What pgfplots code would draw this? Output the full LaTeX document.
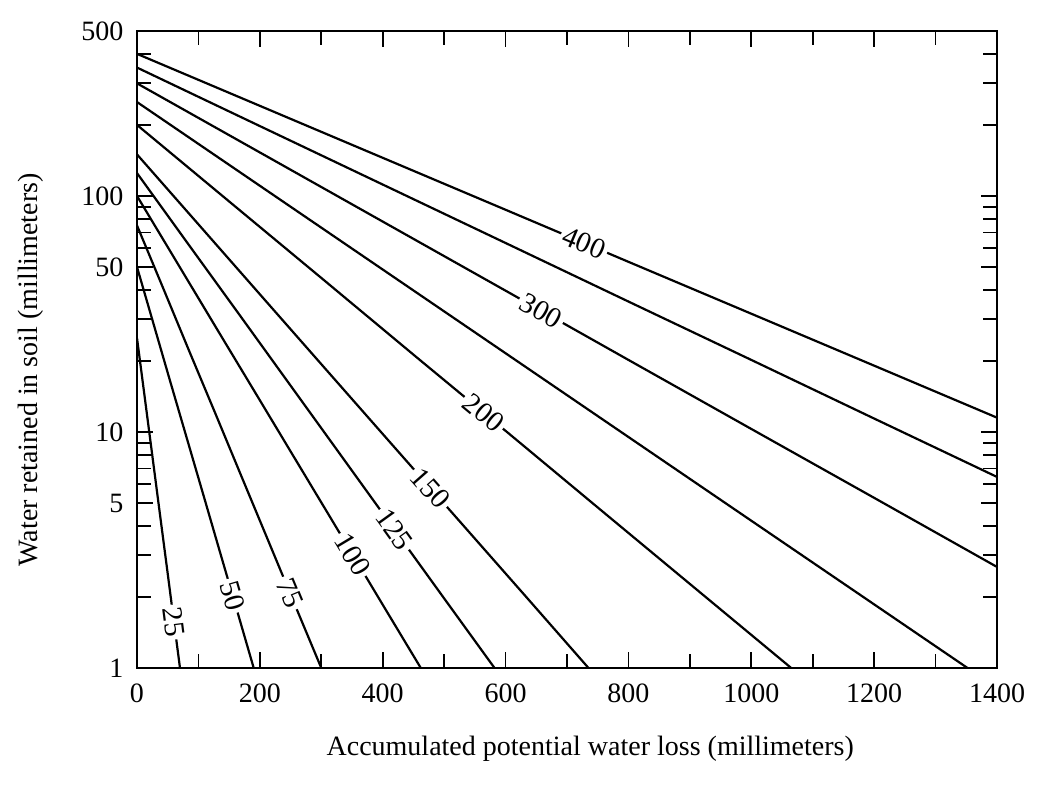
\documentclass[border=0pt]{standalone}
\usepackage{fontspec}
\setmainfont{Liberation Serif}
\usepackage{pgfplots}
\pgfplotsset{compat=1.18}
\tikzset{lab/.style={sloped, fill=white, inner sep=1.5pt, font=\fontsize{14.5}{17}\selectfont}}
\pgfplotsset{cv/.style={black, solid, line width=1.1pt, mark=none}}
\begin{document}
\fontsize{14}{17}\selectfont
\begin{tikzpicture}[font=\fontsize{14}{17}\selectfont]
\begin{axis}[
  scale only axis, width=430pt, height=318.5pt,
  xmin=0, xmax=1400, ymin=1, ymax=500, ymode=log,
  axis line style={line width=1pt},
  tick style={line width=0.9pt, black},
  tick align=inside,
  major tick length=8pt, minor tick length=7pt,
  xtick={0,200,400,600,800,1000,1200,1400},
  xticklabels={0,200,400,600,800,1000,1200,1400},
  minor xtick={100,300,500,700,900,1100,1300},
  ytick={1,5,10,50,100,500}, yticklabels={1,5,10,50,100,500},
  minor ytick={2,3,4,6,7,8,9,20,30,40,60,70,80,90,200,300,400},
  xticklabel style={yshift=-3pt},
  yticklabel style={xshift=-2pt},
  xlabel={Accumulated potential water loss (millimeters)},
  ylabel={Water retained in soil (millimeters)},
  xlabel style={at={(axis description cs:0.527,0)}, anchor=center, yshift=-40.5pt},
  ylabel style={at={(axis description cs:-0.123,0.468)}, anchor=center},
]
% 400
\addplot[cv] coordinates {(0,400) (200,240.9) (400,145.1) (600,87.4) (800,52.6) (1000,31.7) (1200,19.1) (1400,11.5)}
  node[lab, pos=0.52] {400};
% 350
\addplot[cv] coordinates {(0,350) (200,197.8) (400,111.8) (600,63.2) (800,35.7) (1000,20.2) (1200,11.4) (1400,6.45)};
% 300
\addplot[cv] coordinates {(0,300) (200,152.9) (400,77.9) (600,39.7) (800,20.2) (1000,10.3) (1200,5.26) (1400,2.68)}
  node[lab, pos=0.47] {300};
% 250
\addplot[cv] coordinates {(0,250) (193.1,113.6) (386.3,51.6) (579.4,23.45) (772.6,10.65) (965.7,4.84) (1158.9,2.20) (1352,1)};
% 200
\addplot[cv] coordinates {(0,200) (152.1,93.8) (304.3,44.0) (456.4,20.6) (608.6,9.69) (760.7,4.54) (912.9,2.13) (1065,1)}
  node[lab, pos=0.53] {200};
% 150
\addplot[cv] coordinates {(0,150) (105,73.3) (210,35.8) (315,17.5) (420,8.56) (525,4.19) (630,2.05) (735,1)}
  node[lab, pos=0.65] {150};
% 125
\addplot[cv] coordinates {(0,125) (83.1,62.7) (166.3,31.5) (249.4,15.8) (332.6,7.92) (415.7,3.97) (498.9,1.99) (582,1)}
  node[lab, pos=0.72] {125};
% 100
\addplot[cv] coordinates {(0,100) (66,51.8) (132,26.8) (198,13.9) (264,7.20) (330,3.73) (396,1.93) (462,1)}
  node[lab, pos=0.76] {100};
% 75
\addplot[cv] coordinates {(0,75) (42.9,40.5) (85.7,21.8) (128.6,11.8) (171.4,6.36) (214.3,3.43) (257.1,1.85) (300,1)}
  node[lab, pos=0.83] {75};
% 50
\addplot[cv] coordinates {(0,50) (27.1,28.6) (54.3,16.3) (81.4,9.35) (108.6,5.35) (135.7,3.06) (162.9,1.75) (190,1)}
  node[lab, pos=0.82] {50};
% 25
\addplot[cv] coordinates {(0,25) (10,15.8) (20,9.97) (30,6.29) (40,3.97) (50,2.51) (60,1.58) (70,1)}
  node[lab, pos=0.86] {25};
\coordinate (SW) at (rel axis cs:0,0);
\coordinate (NE) at (rel axis cs:1,1);
\end{axis}
\pgfresetboundingbox
\path[use as bounding box] ([xshift=-68.5pt,yshift=-61pt]SW) rectangle ([xshift=23pt,yshift=15.5pt]NE);
\end{tikzpicture}
\end{document}
